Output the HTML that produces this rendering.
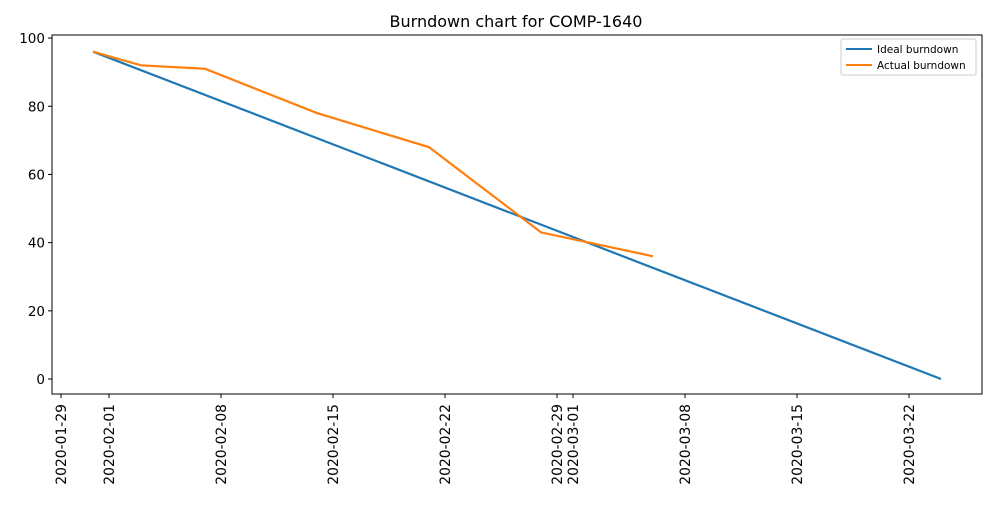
<!DOCTYPE html>
<html><head><meta charset="utf-8"><style>
body{margin:0;background:#fff;}
svg{font-family:"DejaVu Sans","Liberation Sans",sans-serif;}
</style></head><body>
<svg id="chart" width="1000" height="500">
<rect width="1000" height="500" fill="#fff"/>
<text x="516" y="27" text-anchor="middle" font-size="16">Burndown chart for COMP-1640</text>
<g id="grid"></g>
<g id="series"></g>
<rect x="52" y="35" width="930" height="359" fill="none" stroke="#000" stroke-width="1"/>
<g>
<rect x="841" y="39" width="135" height="36" fill="#fff" stroke="#ccc" rx="2"/>
<line x1="846" y1="49" x2="872" y2="49" stroke="#1f77b4" stroke-width="2"/>
<text x="877" y="53" font-size="10.5">Ideal burndown</text>
<line x1="846" y1="65" x2="872" y2="65" stroke="#ff7f0e" stroke-width="2"/>
<text x="877" y="69" font-size="10.5">Actual burndown</text>
</g>
</svg>
<script>
const tickDates=["2020-01-29","2020-02-01","2020-02-08","2020-02-15","2020-02-22","2020-02-29","2020-03-01","2020-03-08","2020-03-15","2020-03-22"];
const yTicks=[0,20,40,60,80,100];
const idealDates=["2020-01-31","2020-03-24"];
const idealValues=[96,0];
const actualDates=["2020-01-31","2020-02-03","2020-02-07","2020-02-14","2020-02-21","2020-02-28","2020-03-06"];
const actualValues=[96,92,91,78,68,43,36];

const NS="http://www.w3.org/2000/svg";
const L=52,R=982,T=35,B=394;
const d0=Date.UTC(2020,0,29);
function day(s){const p=s.split("-");return (Date.UTC(+p[0],+p[1]-1,+p[2])-d0)/86400000;}
const xmin=-0.56,xmax=57.56,ymin=-4.4,ymax=100.9;
function X(s){return L+(day(s)-xmin)/(xmax-xmin)*(R-L);}
function Y(v){return B-(v-ymin)/(ymax-ymin)*(B-T);}
const g=document.getElementById("grid"),sg=document.getElementById("series");
function mk(t,a,p){const e=document.createElementNS(NS,t);for(const k in a)e.setAttribute(k,a[k]);p.appendChild(e);return e;}
tickDates.forEach(s=>{const x=X(s);
 const l=mk("line",{x1:x,x2:x,y1:B,y2:B+4,stroke:"#000"},g);
 
 
 const t=mk("text",{transform:`translate(${x+5},${B+10}) rotate(-90)`,"text-anchor":"end","font-size":"13.9"},g);
 t.textContent=s;
 
 
});
yTicks.forEach(v=>{const y=Y(v);
 const l=mk("line",{x1:L-4,x2:L,y1:y,y2:y,stroke:"#000"},g);
 
 
 const t=mk("text",{x:L-7,y:y+5,"text-anchor":"end","font-size":"13.5"},g);
 t.textContent=v;
 
 
});
function line(ds,vs,c,name){const p=mk("polyline",{points:ds.map((s,i)=>X(s)+","+Y(vs[i])).join(" "),fill:"none",stroke:c,"stroke-width":"2.2"},sg);
 
 }
line(idealDates,idealValues,"#1f77b4","ideal-burndown-line");
line(actualDates,actualValues,"#ff7f0e","actual-burndown-line");
</script>
</body></html>
